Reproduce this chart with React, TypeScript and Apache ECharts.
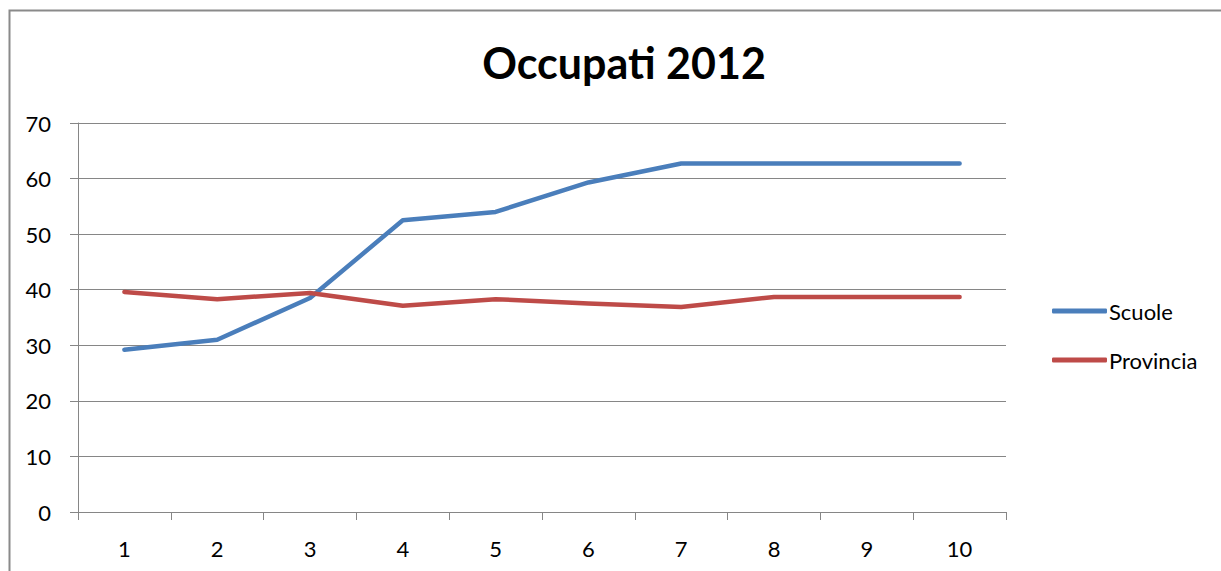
import React, { useEffect, useRef } from "react";
import * as echarts from "echarts";

const categories = ["1", "2", "3", "4", "5", "6", "7", "8", "9", "10"];
const scuole = [29.2, 31.0, 38.5, 52.5, 54.0, 59.3, 62.7, 62.7, 62.7, 62.7];
const provincia = [39.6, 38.3, 39.4, 37.1, 38.3, 37.5, 36.9, 38.7, 38.7, 38.7];
const titleText = "Occupati 2012";

export default function App() {
  const ref = useRef<HTMLDivElement>(null);
  useEffect(() => {
    document.body.style.margin = "0";
    const chart = echarts.init(ref.current!, undefined, { renderer: "svg" });
    const font = "Lato, 'Noto Sans', sans-serif";
    chart.setOption({
      animation: false,
      backgroundColor: "#ffffff",
      title: {
        text: titleText,
        left: 619,
        textAlign: "center",
        top: 36,
        textStyle: { fontFamily: font, fontWeight: "bold", fontSize: 43, color: "#000" },
      },
      graphic: [
        {
          type: "rect",
          shape: { x: 9.5, y: 10.5, width: 1400, height: 800 },
          style: { fill: "none", stroke: "#8a8a8a", lineWidth: 2 },
          silent: true,
        },
      ],
      legend: {
        orient: "vertical",
        left: 1047,
        top: 295,
        itemWidth: 55,
        itemHeight: 5,
        itemGap: 27,
        icon: "roundRect",
        textStyle: { fontFamily: font, fontSize: 22, lineHeight: 22, color: "#000", padding: [0, 0, 0, -3] },
        data: ["Scuole", "Provincia"],
      },
      grid: { left: 78, top: 123, right: 215, bottom: 59, containLabel: false },
      xAxis: {
        type: "category",
        data: categories,
        boundaryGap: true,
        axisLine: { lineStyle: { color: "#868686", width: 1 } },
        axisTick: { show: true, length: 8, alignWithLabel: false, lineStyle: { color: "#868686" } },
        axisLabel: { fontFamily: font, fontSize: 22, color: "#000", margin: 25 },
        splitLine: { show: false },
      },
      yAxis: {
        type: "value",
        min: 0,
        max: 70,
        interval: 10,
        axisLine: { show: true, lineStyle: { color: "#868686", width: 1 } },
        axisTick: { show: true, length: 8, lineStyle: { color: "#868686" } },
        axisLabel: { fontFamily: font, fontSize: 22, color: "#000", margin: 27 },
        splitLine: { show: true, lineStyle: { color: "#868686", width: 1 } },
      },
      series: [
        {
          name: "Scuole",
          type: "line",
          data: scuole,
          symbol: "none",
          color: "#4A7EBB",
          lineStyle: { width: 4.5, color: "#4A7EBB", cap: "round", join: "round" },
        },
        {
          name: "Provincia",
          type: "line",
          data: provincia,
          symbol: "none",
          color: "#BE4B48",
          lineStyle: { width: 4.5, color: "#BE4B48", cap: "round", join: "round" },
        },
      ],
    });
    return () => chart.dispose();
  }, []);
  return <div ref={ref} style={{ width: 1221, height: 571 }} />;
}
